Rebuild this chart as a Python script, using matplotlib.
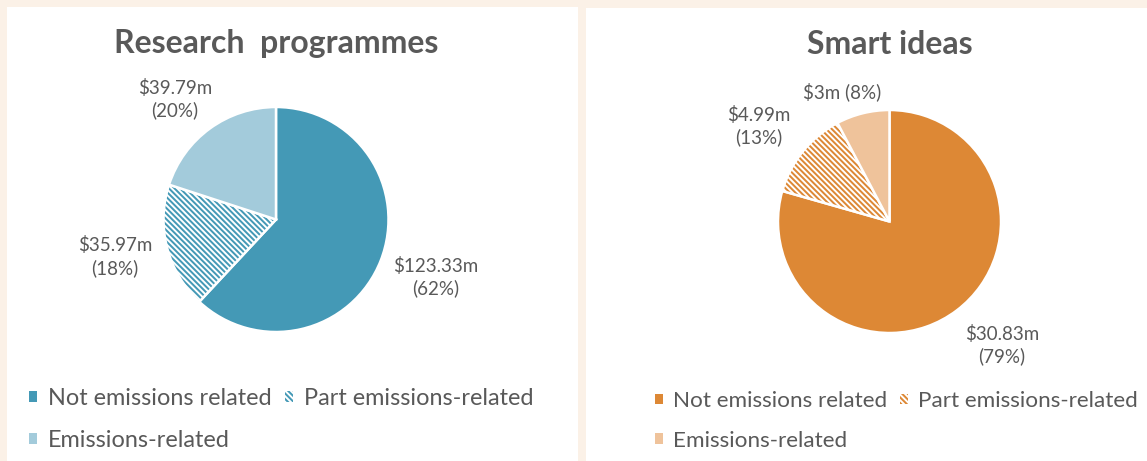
import matplotlib.pyplot as plt
from matplotlib.patches import Rectangle, Patch
import numpy as np

plt.rcParams['font.family'] = ['Lato', 'DejaVu Sans']
plt.rcParams['hatch.linewidth'] = 1.4

# chart data
categories = ['Not emissions related', 'Part emissions-related', 'Emissions-related']

research_title = 'Research  programmes'
research_values = [123.33, 35.97, 39.79]
research_labels = ['$123.33m\n(62%)', '$35.97m\n(18%)', '$39.79m\n(20%)']

smart_title = 'Smart ideas'
smart_values = [30.83, 4.99, 3]
smart_labels = ['$30.83m\n(79%)', '$4.99m\n(13%)', '$3m (8%)']

blues = ['#4499B6', '#4499B6', '#A3CBDB']
oranges = ['#DD8835', '#DD8835', '#EFC39B']
hatches = [None, '\\' * 6, None]

W, H = 1147, 461
text_grey = '#595959'
bg = '#FBF1E7'

fig = plt.figure(figsize=(W / 100, H / 100), dpi=100, facecolor=bg)

# white panels behind each chart
fig.patches.append(Rectangle((7 / W, 0), 571 / W, (H - 7) / H, transform=fig.transFigure,
                             facecolor='white', edgecolor='none', zorder=-5))
fig.patches.append(Rectangle((586 / W, 0), (W - 586) / W, (H - 8) / H, transform=fig.transFigure,
                             facecolor='white', edgecolor='none', zorder=-5))


def draw_pie(cx, cy, r, values, labels, colors, label_pos, title, legend_xy, legend_fs):
    ax = fig.add_axes([(cx - r) / W, (H - cy - r) / H, 2 * r / W, 2 * r / H], zorder=2)
    wedges, _ = ax.pie(values, colors=colors, startangle=90, counterclock=False,
                       radius=1, wedgeprops=dict(edgecolor='white', linewidth=1.8))
    for w, h in zip(wedges, hatches):
        if h:
            w.set_hatch(h)
    ax.set_xlim(-1, 1)
    ax.set_ylim(-1, 1)
    ax.set_aspect('equal')
    ax.axis('off')

    # labels sit outside the wedge, near its middle angle
    for w, lab, (d, turn) in zip(wedges, labels, label_pos):
        mid = np.deg2rad((w.theta1 + w.theta2) / 2 + turn)
        ax.text(d * np.cos(mid), d * np.sin(mid), lab, ha='center', va='center',
                fontsize=13.5, color=text_grey, linespacing=1.3, clip_on=False)

    fig.text(cx / W, 1 - 44 / H, title, ha='center', va='center', fontsize=23,
             fontweight='bold', color=text_grey)

    handles = [Patch(facecolor=c, edgecolor='white', hatch=h, linewidth=0)
               for c, h in zip(colors, hatches)]
    # legend fills column by column, so reorder to read row by row
    order = [0, 2, 1]
    fig.legend([handles[i] for i in order], [categories[i] for i in order],
               loc='upper left', bbox_to_anchor=(legend_xy[0] / W, 1 - legend_xy[1] / H),
               ncol=2, frameon=False, fontsize=legend_fs, labelcolor=text_grey,
               handlelength=0.34, handleheight=0.34, handletextpad=0.45,
               columnspacing=0.6, labelspacing=0.88, borderpad=0, borderaxespad=0)


draw_pie(276, 219.5, 112.5, research_values, research_labels, blues,
         [(1.51, 1.8), (1.47, -1.5), (1.40, 4)], research_title, (29, 388), 16.9)
draw_pie(889.5, 221.5, 111.5, smart_values, smart_labels, oranges,
         [(1.50, 5.2), (1.45, 3), (1.24, 6)], smart_title, (655, 391), 16.2)

fig.savefig('out.png', dpi=100, facecolor=bg)
